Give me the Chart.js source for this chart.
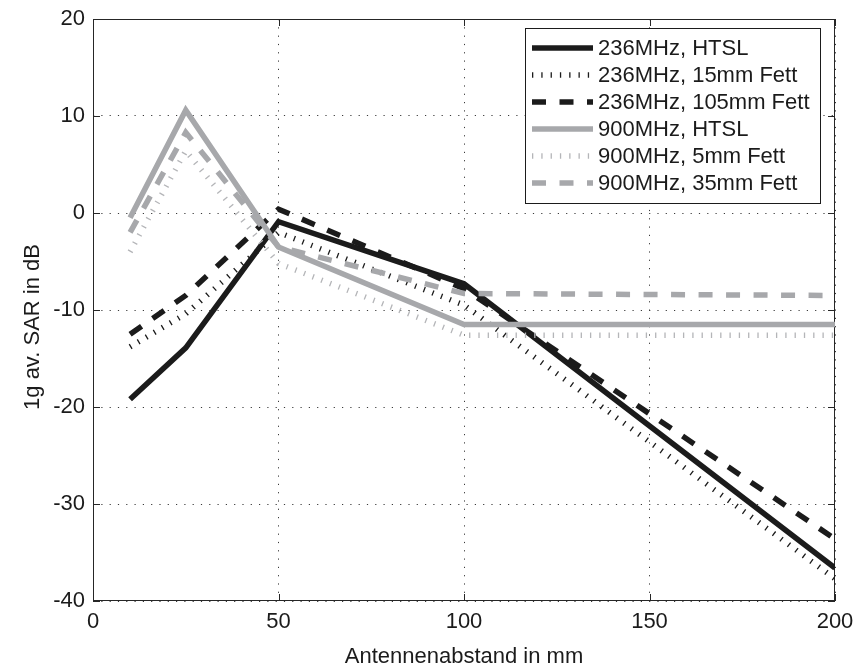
<!DOCTYPE html>
<html>
<head>
<meta charset="utf-8">
<script src="https://cdn.jsdelivr.net/npm/chart.js@4/dist/chart.umd.min.js"></script>
<style>
  html, body { margin: 0; padding: 0; background: #ffffff; }
  #wrap { width: 855px; height: 671px; }
</style>
</head>
<body>
<div id="wrap"><canvas id="chart" width="855" height="671"></canvas></div>
<script>
// Antenna distance (mm) at which the SAR was evaluated
const distances = [10, 25, 50, 100, 200];

// 1g averaged SAR in dB for each configuration
const sar236Htsl   = [-19.2, -13.9, -0.9, -7.3, -36.6];
const sar236Fat15  = [-13.8, -10.4, -2.0, -9.5, -37.7];
const sar236Fat105 = [-12.5, -8.5, 0.4, -7.8, -33.6];
const sar900Htsl   = [-0.5, 10.6, -3.5, -11.5, -11.5];
const sar900Fat5   = [-4.0, 6.4, -5.2, -12.6, -12.6];
const sar900Fat35  = [-2.0, 8.3, -3.5, -8.3, -8.5];

const seriesLabels = [
  '236MHz, HTSL',
  '236MHz, 15mm Fett',
  '236MHz, 105mm Fett',
  '900MHz, HTSL',
  '900MHz, 5mm Fett',
  '900MHz, 35mm Fett'
];

const xTickValues = [0, 50, 100, 150, 200];
const yTickValues = [-40, -30, -20, -10, 0, 10, 20];

const xTitle = 'Antennenabstand in mm';
const yTitle = '1g av. SAR in dB';

const FONT = "'Liberation Sans', Arial, Helvetica, sans-serif";
const BLACK = '#1b1b1b';
const GREY = '#a7a8ab';
const LIGHT = '#b4b5b8';

const DOT = [1.3, 8];
const DASH = [14, 13.5];

function series(label, values, color, dash, order) {
  return {
    label: label,
    data: distances.map((d, i) => ({ x: d, y: values[i] })),
    borderColor: color,
    backgroundColor: color,
    borderWidth: 5.5,
    borderDash: dash,
    borderCapStyle: 'butt',
    borderJoinStyle: 'miter',
    pointRadius: 0,
    pointHoverRadius: 0,
    tension: 0,
    fill: false,
    order: order
  };
}

const datasets = [
  series(seriesLabels[0], sar236Htsl,   BLACK, [],   5),
  series(seriesLabels[1], sar236Fat15,  BLACK, DOT,  4),
  series(seriesLabels[2], sar236Fat105, BLACK, DASH, 3),
  series(seriesLabels[3], sar900Htsl,   GREY,  [],   2),
  series(seriesLabels[4], sar900Fat5,   LIGHT, DOT,  1),
  series(seriesLabels[5], sar900Fat35,  GREY,  DASH, 0)
];

// Frame around the plot with inward tick marks on all four sides
const frameTicks = {
  id: 'frameTicks',
  beforeDatasetsDraw(chart) {
    const { ctx, chartArea: a, scales: { x, y } } = chart;
    ctx.save();
    ctx.strokeStyle = '#262626';
    ctx.lineWidth = 1;
    ctx.setLineDash([]);
    ctx.strokeRect(a.left + 0.5, a.top + 0.5, a.right - a.left - 1, a.bottom - a.top - 1);
    const L = 7;
    ctx.beginPath();
    xTickValues.forEach(v => {
      const px = Math.round(x.getPixelForValue(v)) + 0.5;
      ctx.moveTo(px, a.bottom); ctx.lineTo(px, a.bottom - L);
      ctx.moveTo(px, a.top); ctx.lineTo(px, a.top + L);
    });
    yTickValues.forEach(v => {
      const py = Math.round(y.getPixelForValue(v)) + 0.5;
      ctx.moveTo(a.left, py); ctx.lineTo(a.left + L, py);
      ctx.moveTo(a.right, py); ctx.lineTo(a.right - L, py);
    });
    ctx.stroke();
    ctx.restore();
  },
  afterDraw(chart) {
    // vertical axis title
    const { ctx } = chart;
    ctx.save();
    ctx.translate(33, 327);
    ctx.rotate(-Math.PI / 2);
    ctx.font = '22px ' + FONT;
    ctx.fillStyle = '#1b1b1b';
    ctx.textAlign = 'center';
    ctx.textBaseline = 'middle';
    ctx.fillText(yTitle, 0, 0);
    ctx.restore();
  }
};

// Boxed legend with line samples in the upper right corner
const boxLegend = {
  id: 'boxLegend',
  afterDraw(chart) {
    const { ctx } = chart;
    const bx = 525, by = 28, bw = 295, bh = 175;
    ctx.save();
    ctx.fillStyle = '#ffffff';
    ctx.fillRect(bx, by, bw, bh);
    ctx.strokeStyle = '#1b1b1b';
    ctx.lineWidth = 1;
    ctx.setLineDash([]);
    ctx.strokeRect(bx + 0.5, by + 0.5, bw, bh);
    ctx.font = '22px ' + FONT;
    ctx.textAlign = 'left';
    ctx.textBaseline = 'middle';
    chart.data.datasets.forEach((ds, i) => {
      const cy = 48 + i * 27;
      ctx.beginPath();
      ctx.lineWidth = ds.borderWidth;
      ctx.strokeStyle = ds.borderColor;
      ctx.lineCap = 'butt';
      ctx.setLineDash(ds.borderDash || []);
      ctx.moveTo(532, cy);
      ctx.lineTo(593, cy);
      ctx.stroke();
      ctx.setLineDash([]);
      ctx.fillStyle = '#1b1b1b';
      ctx.fillText(ds.label, 598, cy + 1);
    });
    ctx.restore();
  }
};

new Chart(document.getElementById('chart'), {
  type: 'line',
  data: { datasets: datasets },
  options: {
    responsive: false,
    animation: false,
    devicePixelRatio: 1,
    layout: { padding: { top: 19, right: 20, left: 0, bottom: 0 } },
    plugins: {
      legend: { display: false },
      tooltip: { enabled: false }
    },
    scales: {
      x: {
        type: 'linear',
        min: 0,
        max: 200,
        afterBuildTicks(scale) { scale.ticks = xTickValues.map(v => ({ value: v })); },
        afterFit(scale) { scale.height = 70; scale.paddingLeft = 0; scale.paddingRight = 0; },
        border: { display: false, dash: [1.2, 7.1] },
        grid: {
          color: '#3a3a3a',
          lineWidth: 1,
          drawTicks: false
        },
        ticks: {
          color: '#1b1b1b',
          font: { family: FONT, size: 22 },
          padding: 8,
          maxRotation: 0
        },
        title: {
          display: true,
          text: xTitle,
          color: '#1b1b1b',
          font: { family: FONT, size: 22 },
          padding: { top: 0, bottom: 1 }
        }
      },
      y: {
        type: 'linear',
        min: -40,
        max: 20,
        afterBuildTicks(scale) { scale.ticks = yTickValues.map(v => ({ value: v })); },
        afterFit(scale) { scale.width = 93; scale.paddingTop = 0; scale.paddingBottom = 0; },
        border: { display: false, dash: [1.2, 7.1] },
        grid: {
          color: '#3a3a3a',
          lineWidth: 1,
          drawTicks: false
        },
        ticks: {
          color: '#1b1b1b',
          font: { family: FONT, size: 22 },
          padding: 8
        },
        title: { display: false }
      }
    }
  },
  plugins: [frameTicks, boxLegend]
});
</script>
</body>
</html>
